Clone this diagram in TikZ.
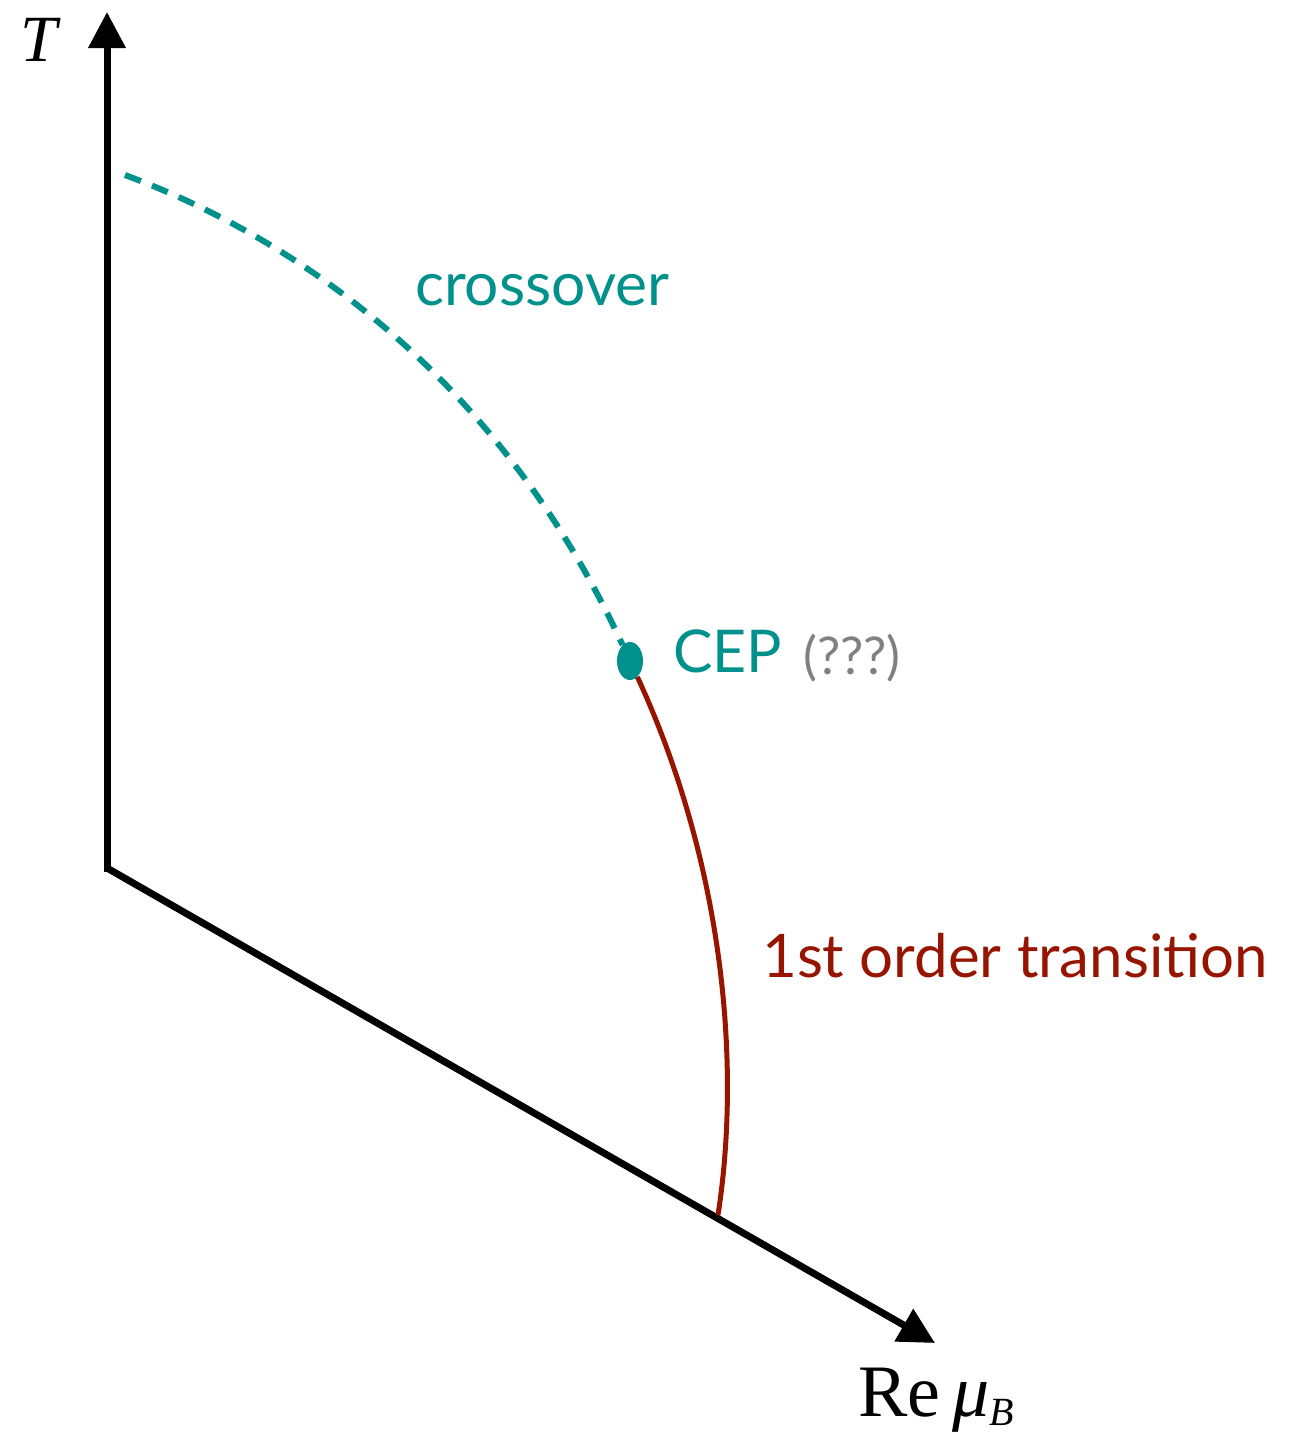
\documentclass[tikz,border=0pt]{standalone}
\usepackage{fontspec}
\setsansfont{Lato}
\newfontfamily\tms{Liberation Serif}
\usetikzlibrary{arrows.meta,shapes.geometric}
\definecolor{teal1}{RGB}{0,145,140}
\definecolor{red1}{RGB}{150,20,0}
\definecolor{grey1}{RGB}{128,128,128}
\begin{document}
\begin{tikzpicture}[x=1pt,y=-1pt,
  axis/.style={line width=7pt,-{Triangle[length=36pt,width=36pt]}},
  lbl/.style={inner sep=0pt,anchor=base west,font=\sffamily}]
\useasboundingbox (0,0) rectangle (1293,1435);
\coordinate (O) at (107,868);
\coordinate (Ttip) at (107,12);
\coordinate (Mtip) at (935,1343);
\draw[axis,line cap=butt] (O) -- (Ttip);
\draw[axis] (O) -- (Mtip);
\draw[line width=7pt] (103.5,868) -- (O);
\node[fill=teal1,ellipse,minimum width=26pt,minimum height=38pt,inner sep=0pt] (cep) at (630,661) {};
\draw[teal1,line width=6pt,dash pattern=on 17pt off 12pt] (125,175) .. controls (300,240) and (500,380) .. (cep);
\coordinate (R0) at (718,1215);
\draw[red1,line width=5pt] (cep) .. controls (722,860) and (742,1060) .. (R0);
\node[lbl,text=teal1,font=\sffamily\fontsize{60.5}{70}\selectfont] (cross) at (415,305) {crossover};
\node[lbl,text=teal1,font=\sffamily\fontsize{59}{70}\selectfont] (ceptxt) at (673,672) {CEP};
\node[lbl,text=grey1,font=\sffamily\fontsize{52}{70}\selectfont] (q) at (803,674) {(???)};
\node[lbl,text=red1,font=\sffamily\fontsize{60}{70}\selectfont] (first) at (762,977) {1st order transition};
\node[lbl,font=\tms\itshape\fontsize{66}{70}\selectfont] (T) at (20,61) {T};
\node[lbl,font=\tms\fontsize{74}{80}\selectfont] (mu) at (858,1416) {Re\,\textit{μ}\raisebox{-9pt}{\fontsize{40}{50}\selectfont\itshape B}};
\end{tikzpicture}
\end{document}
